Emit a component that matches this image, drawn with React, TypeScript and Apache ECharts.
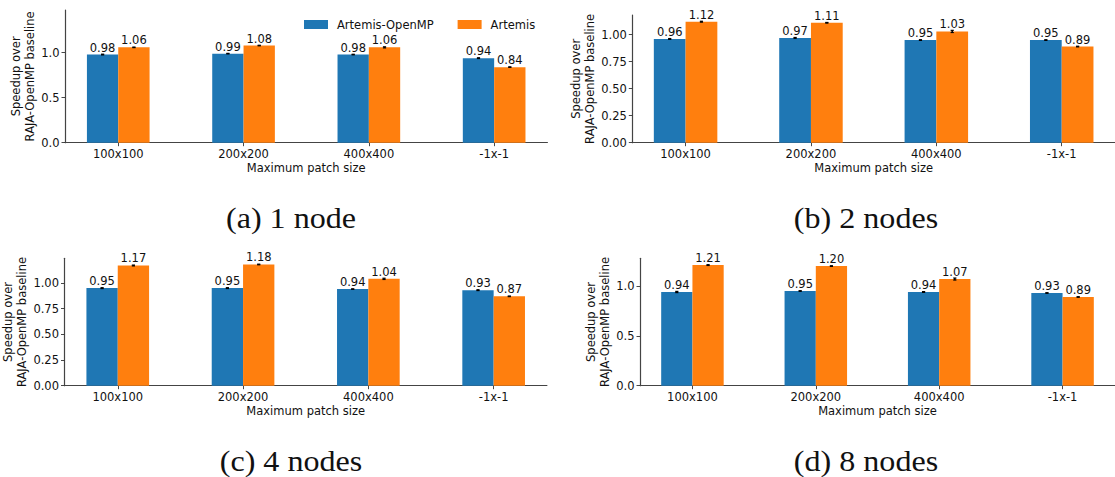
import React, { useEffect, useRef } from "react";
import * as echarts from "echarts";

const categories = ["100x100", "200x200", "400x400", "-1x-1"];
const seriesNames = ["Artemis-OpenMP", "Artemis"];
const captions = ["(a) 1 node", "(b) 2 nodes", "(c) 4 nodes", "(d) 8 nodes"];

const openmp1 = [0.98, 0.99, 0.98, 0.94];
const artemis1 = [1.06, 1.08, 1.06, 0.84];
const openmp2 = [0.96, 0.97, 0.95, 0.95];
const artemis2 = [1.12, 1.11, 1.03, 0.89];
const openmp4 = [0.95, 0.95, 0.94, 0.93];
const artemis4 = [1.17, 1.18, 1.04, 0.87];
const openmp8 = [0.94, 0.95, 0.94, 0.93];
const artemis8 = [1.21, 1.2, 1.07, 0.89];

const errOpenmp1 = [0.004, 0.003, 0.003, 0.004];
const errArtemis1 = [0.003, 0.003, 0.006, 0.003];
const errOpenmp2 = [0.004, 0.004, 0.003, 0.003];
const errArtemis2 = [0.004, 0.003, 0.01, 0.003];
const errOpenmp4 = [0.004, 0.004, 0.003, 0.004];
const errArtemis4 = [0.004, 0.003, 0.006, 0.003];
const errOpenmp8 = [0.006, 0.003, 0.004, 0.003];
const errArtemis8 = [0.004, 0.003, 0.01, 0.003];

const ticksHalf = [0, 0.5, 1.0];
const ticksQuarter = [0, 0.25, 0.5, 0.75, 1.0];

const panels = [
  { openmp: openmp1, artemis: artemis1, eo: errOpenmp1, ea: errArtemis1, ticks: ticksHalf, dec: 1, ymax: 1.475 },
  { openmp: openmp2, artemis: artemis2, eo: errOpenmp2, ea: errArtemis2, ticks: ticksQuarter, dec: 2, ymax: 1.182 },
  { openmp: openmp4, artemis: artemis4, eo: errOpenmp4, ea: errArtemis4, ticks: ticksQuarter, dec: 2, ymax: 1.24 },
  { openmp: openmp8, artemis: artemis8, eo: errOpenmp8, ea: errArtemis8, ticks: ticksHalf, dec: 1, ymax: 1.278 },
];

// layout (pixels)
const layout = [
  { left: 65, top: 10, unit: 125.3, height: 132.7, nameGap: 21.5, capX: 291, capY: 218 },
  { left: 632.3, top: 15, unit: 127, height: 127.7, nameGap: 28, capX: 866, capY: 218 },
  { left: 64.5, top: 258.3, unit: 125.3, height: 127.4, nameGap: 28.5, capX: 291, capY: 461 },
  { left: 640, top: 258.3, unit: 125, height: 127.4, nameGap: 23, capX: 866, capY: 461 },
];

const XMIN = -0.425;
const XMAX = 3.425;
const BLUE = "#1f77b4";
const ORANGE = "#ff7f0e";
const FONT = "DejaVu Sans";

export default function App() {
  const ref = useRef<HTMLDivElement>(null);
  useEffect(() => {
    if (!ref.current) return;
    const chart = echarts.init(ref.current, undefined, { renderer: "svg" });
    const grids: any[] = [];
    const xAxes: any[] = [];
    const yAxes: any[] = [];
    const series: any[] = [];
    const graphics: any[] = [];
    const axisLine = { show: true, onZero: false, lineStyle: { color: "#444", width: 1.2 } };
    const axisTick = (vals: number[]) => ({
      show: true,
      length: 3.5,
      inside: false,
      customValues: vals,
      lineStyle: { color: "#333", width: 0.9 },
    });

    panels.forEach((p, i) => {
      const L = layout[i];
      const width = (XMAX - XMIN) * L.unit;
      const bw = L.unit * 0.25;
      grids.push({ left: L.left, top: L.top, width, height: L.height, containLabel: false });
      xAxes.push({
        type: "value",
        gridIndex: i,
        min: XMIN,
        max: XMAX,
        axisLine,
        axisTick: axisTick([0, 1, 2, 3]),
        splitLine: { show: false },
        axisLabel: {
          customValues: [0, 1, 2, 3],
          formatter: (v: number) => categories[Math.round(v)] ?? "",
          fontFamily: FONT,
          fontSize: 11.5,
          color: "#111",
          margin: 5,
          lineHeight: 13,
        },
        name: "Maximum patch size",
        nameLocation: "middle",
        nameGap: 16,
        nameTextStyle: { fontFamily: FONT, fontSize: 11.5, color: "#111", lineHeight: 13 },
      });
      yAxes.push({
        type: "value",
        gridIndex: i,
        min: 0,
        max: p.ymax,
        axisLine,
        axisTick: axisTick(p.ticks),
        splitLine: { show: false },
        axisLabel: {
          customValues: p.ticks,
          formatter: (v: number) => v.toFixed(p.dec),
          fontFamily: FONT,
          fontSize: 11.5,
          color: "#111",
          margin: 5.5,
        },
        name: "Speedup over\nRAJA-OpenMP baseline",
        nameLocation: "middle",
        nameRotate: 90,
        nameGap: L.nameGap,
        nameTextStyle: { fontFamily: FONT, fontSize: 11.5, color: "#111", lineHeight: 14, align: "center" },
      });

      const mk = (name: string, vals: number[], color: string) => ({
        type: "bar",
        name,
        xAxisIndex: i,
        yAxisIndex: i,
        barWidth: bw,
        barGap: "0%",
        data: vals.map((v, j) => [j, v]),
        itemStyle: { color },
        label: {
          show: true,
          position: "top",
          distance: 1,
          formatter: (prm: any) => Number(prm.value[1]).toFixed(2),
          fontFamily: FONT,
          fontSize: 11.5,
          color: "#111",
        },
        z: 2,
      });
      series.push(mk(seriesNames[0], p.openmp, BLUE));
      series.push(mk(seriesNames[1], p.artemis, ORANGE));

      const errSeries = (vals: number[], errs: number[], offset: number) => ({
        type: "custom",
        name: "err",
        xAxisIndex: i,
        yAxisIndex: i,
        silent: true,
        z: 5,
        data: vals.map((v, j) => [j, v, errs[j]]),
        encode: { x: 0, y: 1 },
        renderItem: (_params: any, api: any) => {
          const x = api.value(0);
          const v = api.value(1);
          const e = api.value(2);
          const t = api.coord([x, v + e]);
          const b = api.coord([x, v - e]);
          const cx = t[0] + offset;
          return {
            type: "group",
            children: [
              { type: "line", shape: { x1: cx, y1: t[1], x2: cx, y2: b[1] }, style: { stroke: "#000", lineWidth: 1.5 } },
              { type: "line", shape: { x1: cx - 1.6, y1: t[1], x2: cx + 1.6, y2: t[1] }, style: { stroke: "#000", lineWidth: 1.2 } },
              { type: "line", shape: { x1: cx - 1.6, y1: b[1], x2: cx + 1.6, y2: b[1] }, style: { stroke: "#000", lineWidth: 1.2 } },
            ],
          };
        },
      });
      series.push(errSeries(p.openmp, p.eo, -bw / 2));
      series.push(errSeries(p.artemis, p.ea, bw / 2));

      graphics.push({
        type: "text",
        x: L.capX,
        y: L.capY,
        scaleX: 1.07,
        style: {
          text: captions[i],
          fontFamily: "Liberation Serif",
          fontSize: 30,
          fill: "#111",
          textAlign: "center",
          textVerticalAlign: "middle",
        },
      });
    });

    chart.setOption({
      animation: false,
      backgroundColor: "#fff",
      legend: {
        data: seriesNames,
        left: 304,
        top: 18.5,
        padding: 0,
        itemGap: 24,
        itemWidth: 24,
        itemHeight: 9,
        icon: "rect",
        textStyle: { fontFamily: FONT, fontSize: 11.5, color: "#111", padding: [0, 0, 0, 4] },
      },
      grid: grids,
      xAxis: xAxes,
      yAxis: yAxes,
      series,
      graphic: graphics,
    });
    return () => chart.dispose();
  }, []);
  return <div ref={ref} style={{ position: "absolute", left: 0, top: 0, width: 1115, height: 477 }} />;
}
